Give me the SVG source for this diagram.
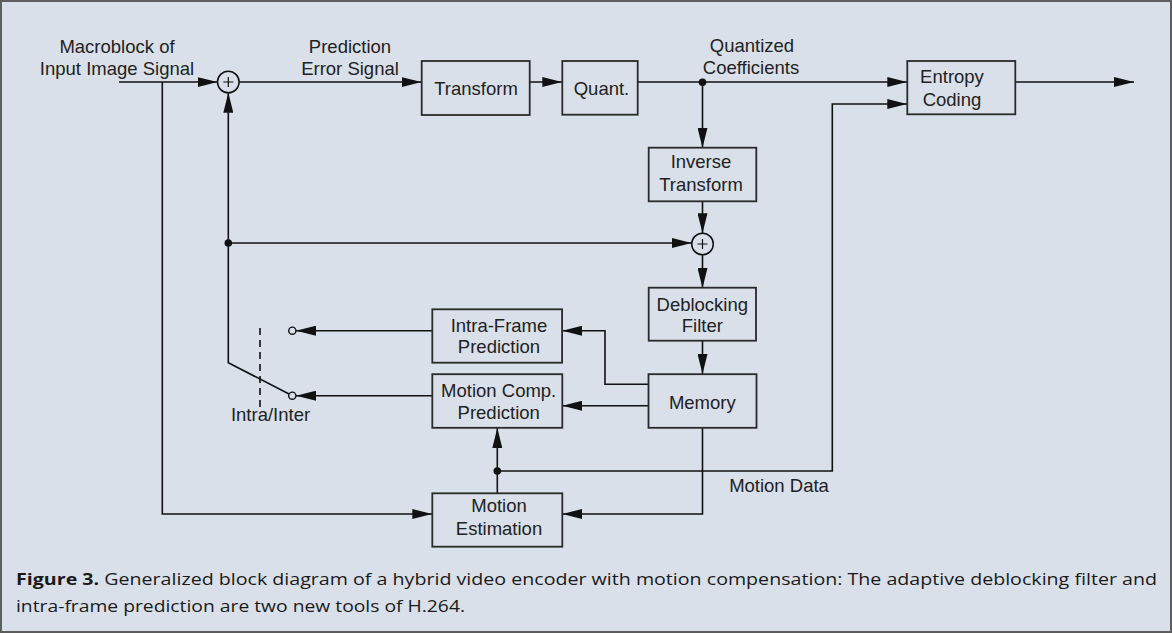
<svg xmlns="http://www.w3.org/2000/svg" width="1172" height="634" viewBox="0 0 1172 634">
<style>
.bx{fill:none;stroke:#2a2a2a;stroke-width:1.8}
.ln{fill:none;stroke:#111;stroke-width:1.6}
.ar{marker-end:url(#ah)}
.t{font-family:"Liberation Sans",Arial,sans-serif;font-size:18.5px;fill:#222;text-anchor:middle}
.cap{font-family:"Open Sans","Noto Sans",sans-serif;font-size:15.5px;fill:#1a1a1a}
.dot{fill:#111}
.sw{fill:#d9e0ea;stroke:#111;stroke-width:1.4}
</style>
<defs>
<marker id="ah" markerUnits="userSpaceOnUse" markerWidth="20" markerHeight="10" refX="20" refY="5" orient="auto">
<path d="M0,0 L20,5 L0,10 Z" fill="#111"/>
</marker>
</defs>
<rect x="1" y="1" width="1170" height="631" fill="#d9e0ea" stroke="#5e5e5e" stroke-width="2"/>

<g id="connectors">
<path class="ln ar" d="M119,82 H217.5"/>
<path class="ln ar" d="M239.2,82 H421.5"/>
<path class="ln ar" d="M530,82 H562.3"/>
<path class="ln ar" d="M638,82 H907.3"/>
<path class="ln ar" d="M1015.3,82 H1134"/>
<path class="ln ar" d="M702.5,82 V147.7"/>
<path class="ln ar" d="M702.5,201.5 V233.2"/>
<path class="ln ar" d="M228.3,243 H691.7"/>
<path class="ln ar" d="M702.5,254.8 V288"/>
<path class="ln ar" d="M702.5,341 V374"/>
<path class="ln ar" d="M648.5,384.3 H605 V330.7 H562.3"/>
<path class="ln ar" d="M648.5,405.7 H562.3"/>
<path class="ln ar" d="M702.5,428 V514 H562.3"/>
<path class="ln ar" d="M162.3,82 V514 H432.3"/>
<path class="ln ar" d="M497.3,493.3 V428"/>
<path class="ln ar" d="M497.3,471 H832.3 V104 H907.3"/>
<path class="ln ar" d="M432.3,330.7 H296"/>
<path class="ln ar" d="M432.3,395.7 H296"/>
<path class="ln ar" d="M289,394 L228.3,362.7 V92.8"/>
<path class="ln" d="M260,328 V407" stroke-dasharray="7,5"/>
<circle class="dot" cx="702.5" cy="82.3" r="3.8"/>
<circle class="dot" cx="228.3" cy="243" r="3.8"/>
<circle class="dot" cx="497.3" cy="471" r="3.8"/>
</g>

<g id="input-label">
<text class="t" x="117" y="52.5">Macroblock of</text>
<text class="t" x="117" y="75">Input Image Signal</text>
</g>
<g id="pred-error-label">
<text class="t" x="350" y="52.5">Prediction</text>
<text class="t" x="350" y="75">Error Signal</text>
</g>
<g id="quant-coeff-label">
<text class="t" x="752" y="52">Quantized</text>
<text class="t" x="751" y="74.3">Coefficients</text>
</g>
<g id="motion-data-label">
<text class="t" x="779" y="492.3">Motion Data</text>
</g>
<g id="intra-inter-label">
<text class="t" x="270.5" y="421">Intra/Inter</text>
</g>

<g id="sum1">
<circle cx="228.3" cy="82" r="10.8" fill="none" stroke="#111" stroke-width="1.5"/>
<path d="M223.3,82 H233.3 M228.3,77 V87" stroke="#111" stroke-width="1.2"/>
</g>
<g id="sum2">
<circle cx="702.5" cy="244" r="10.8" fill="none" stroke="#111" stroke-width="1.5"/>
<path d="M697.5,244 H707.5 M702.5,239 V249" stroke="#111" stroke-width="1.2"/>
</g>

<g id="switch">
<circle class="sw" cx="292.3" cy="330.7" r="3.6"/>
<circle class="sw" cx="292.3" cy="395.7" r="3.6"/>
</g>

<g id="transform">
<rect class="bx" x="421.7" y="61" width="108" height="54"/>
<text class="t" x="476" y="94.5">Transform</text>
</g>
<g id="quant">
<rect class="bx" x="562.3" y="61" width="75.4" height="53.7"/>
<text class="t" x="601.5" y="95">Quant.</text>
</g>
<g id="entropy">
<rect class="bx" x="907.3" y="61" width="108" height="53.3"/>
<text class="t" x="952" y="83.3">Entropy</text>
<text class="t" x="952" y="106">Coding</text>
</g>
<g id="inverse-transform">
<rect class="bx" x="648.7" y="147.7" width="107.6" height="53.6"/>
<text class="t" x="701" y="168.3">Inverse</text>
<text class="t" x="701" y="190.7">Transform</text>
</g>
<g id="deblocking">
<rect class="bx" x="648.7" y="287.7" width="107.3" height="53"/>
<text class="t" x="702.3" y="310.7">Deblocking</text>
<text class="t" x="702.3" y="332.3">Filter</text>
</g>
<g id="memory">
<rect class="bx" x="648.5" y="374.2" width="108" height="53.6"/>
<text class="t" x="702.3" y="409.3">Memory</text>
</g>
<g id="intra-frame">
<rect class="bx" x="432.3" y="309.3" width="129.8" height="53.4"/>
<text class="t" x="499" y="331.7">Intra-Frame</text>
<text class="t" x="499" y="353.3">Prediction</text>
</g>
<g id="motion-comp">
<rect class="bx" x="432.3" y="374.2" width="130" height="53.6"/>
<text class="t" x="498.7" y="396.7">Motion Comp.</text>
<text class="t" x="498.7" y="419">Prediction</text>
</g>
<g id="motion-est">
<rect class="bx" x="432.3" y="493.3" width="130" height="53.4"/>
<text class="t" x="499" y="512.3">Motion</text>
<text class="t" x="499" y="535">Estimation</text>
</g>

<g id="caption">
<text class="cap" x="16" y="585" textLength="1141" lengthAdjust="spacingAndGlyphs"><tspan font-weight="bold">Figure 3.</tspan> Generalized block diagram of a hybrid video encoder with motion compensation: The adaptive deblocking filter and</text>
<text class="cap" x="16" y="611.5" textLength="449" lengthAdjust="spacingAndGlyphs">intra-frame prediction are two new tools of H.264.</text>
</g>
</svg>
